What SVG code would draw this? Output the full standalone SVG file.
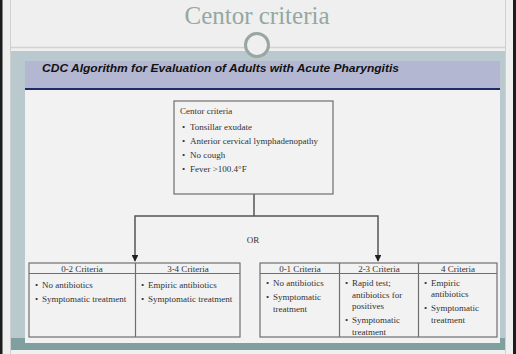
<svg xmlns="http://www.w3.org/2000/svg" width="516" height="354" viewBox="0 0 516 354">
<style>
.t{font-family:"Liberation Serif","Times New Roman",serif;font-size:9px;fill:#333}
.hd{font-family:"Liberation Serif","Times New Roman",serif;font-size:9px;fill:#333;text-anchor:middle}
.box{fill:none;stroke:#6f6f6f;stroke-width:1.2}
.conn{fill:none;stroke:#555;stroke-width:1.5}
</style>
<defs>
<marker id="arr" viewBox="0 0 10 10" refX="9" refY="5" markerWidth="4.5" markerHeight="4.5" orient="auto" markerUnits="strokeWidth">
<path d="M0,0 L10,5 L0,10 Z" fill="#222"/>
</marker>
</defs>
<!-- background -->
<rect x="0" y="0" width="516" height="354" fill="#efefef"/>
<rect x="0" y="0" width="2.5" height="354" fill="#1c1c1c"/>
<rect x="513" y="0" width="3" height="354" fill="#1c1c1c"/>
<line x1="10.5" y1="0" x2="10.5" y2="354" stroke="#cfcfcf" stroke-width="1"/>
<line x1="505.5" y1="0" x2="505.5" y2="354" stroke="#cfcfcf" stroke-width="1"/>
<!-- title -->
<text x="257" y="24" font-family="'Liberation Serif','Times New Roman',serif" font-size="25" fill="#93a8a1" text-anchor="middle">Centor criteria</text>
<line x1="11" y1="47.5" x2="505" y2="47.5" stroke="#d2d2d2" stroke-width="1.5"/>
<!-- frame -->
<rect x="11" y="51" width="494" height="299" fill="#bac9cd"/>
<rect x="11" y="338" width="494" height="12" fill="#7fa09e"/>
<rect x="25" y="61" width="475" height="27" fill="#b3b7d2"/>
<line x1="25" y1="89" x2="500" y2="89" stroke="#1d2b6b" stroke-width="2"/>
<rect x="25" y="90" width="475" height="253" fill="#f2f2f2"/>
<circle cx="257" cy="45" r="11.5" fill="#efefef" stroke="#9aa6a4" stroke-width="3"/>
<text x="42" y="72" font-family="'Liberation Sans',Arial,sans-serif" font-size="10" font-weight="bold" font-style="italic" fill="#111" textLength="357" lengthAdjust="spacingAndGlyphs">CDC Algorithm for Evaluation of Adults with Acute Pharyngitis</text>

<!-- connectors -->
<g id="connectors">
<polyline class="conn" points="254,194 254,216"/>
<polyline class="conn" points="254,216 135,216 135,261" marker-end="url(#arr)"/>
<polyline class="conn" points="254,216 378,216 378,261" marker-end="url(#arr)"/>
<text x="253" y="243" class="hd" font-size="8">OR</text>
</g>

<!-- top node -->
<g id="centor">
<rect class="box" x="174" y="101" width="159" height="93"/>
<text class="t" x="180" y="114">Centor criteria</text>
<text class="t" x="182" y="130">•</text><text class="t" x="190" y="130">Tonsillar exudate</text>
<text class="t" x="182" y="144">•</text><text class="t" x="190" y="144">Anterior cervical lymphadenopathy</text>
<text class="t" x="182" y="158">•</text><text class="t" x="190" y="158">No cough</text>
<text class="t" x="182" y="172">•</text><text class="t" x="190" y="172">Fever &gt;100.4°F</text>
</g>

<!-- left table -->
<g id="left-table">
<rect class="box" x="29" y="263" width="211" height="74"/>
<line class="box" x1="29" y1="273.5" x2="240" y2="273.5"/>
<line class="box" x1="135.5" y1="263" x2="135.5" y2="337"/>
<text class="hd" x="82" y="271.5">0-2 Criteria</text>
<text class="hd" x="188" y="271.5">3-4 Criteria</text>
<text class="t" x="35" y="288">•</text><text class="t" x="42" y="288">No antibiotics</text>
<text class="t" x="35" y="302">•</text><text class="t" x="42" y="302">Symptomatic treatment</text>
<text class="t" x="141" y="288">•</text><text class="t" x="148" y="288">Empiric antibiotics</text>
<text class="t" x="141" y="302">•</text><text class="t" x="148" y="302">Symptomatic treatment</text>
</g>

<!-- right table -->
<g id="right-table">
<rect class="box" x="260" y="263" width="237" height="74"/>
<line class="box" x1="260" y1="273.5" x2="497" y2="273.5"/>
<line class="box" x1="339.5" y1="263" x2="339.5" y2="337"/>
<line class="box" x1="418.5" y1="263" x2="418.5" y2="337"/>
<text class="hd" x="300" y="271.5">0-1 Criteria</text>
<text class="hd" x="379" y="271.5">2-3 Criteria</text>
<text class="hd" x="458" y="271.5">4 Criteria</text>
<text class="t" x="266" y="286">•</text><text class="t" x="273" y="286">No antibiotics</text>
<text class="t" x="266" y="300">•</text><text class="t" x="273" y="300">Symptomatic</text>
<text class="t" x="273" y="312">treatment</text>
<text class="t" x="345" y="286">•</text><text class="t" x="352" y="286">Rapid test;</text>
<text class="t" x="352" y="297.5">antibiotics for</text>
<text class="t" x="352" y="309">positives</text>
<text class="t" x="345" y="323">•</text><text class="t" x="352" y="323">Symptomatic</text>
<text class="t" x="352" y="335">treatment</text>
<text class="t" x="424" y="286">•</text><text class="t" x="431" y="286">Empiric</text>
<text class="t" x="431" y="297">antibiotics</text>
<text class="t" x="424" y="311">•</text><text class="t" x="431" y="311">Symptomatic</text>
<text class="t" x="431" y="322.5">treatment</text>
</g>
</svg>
